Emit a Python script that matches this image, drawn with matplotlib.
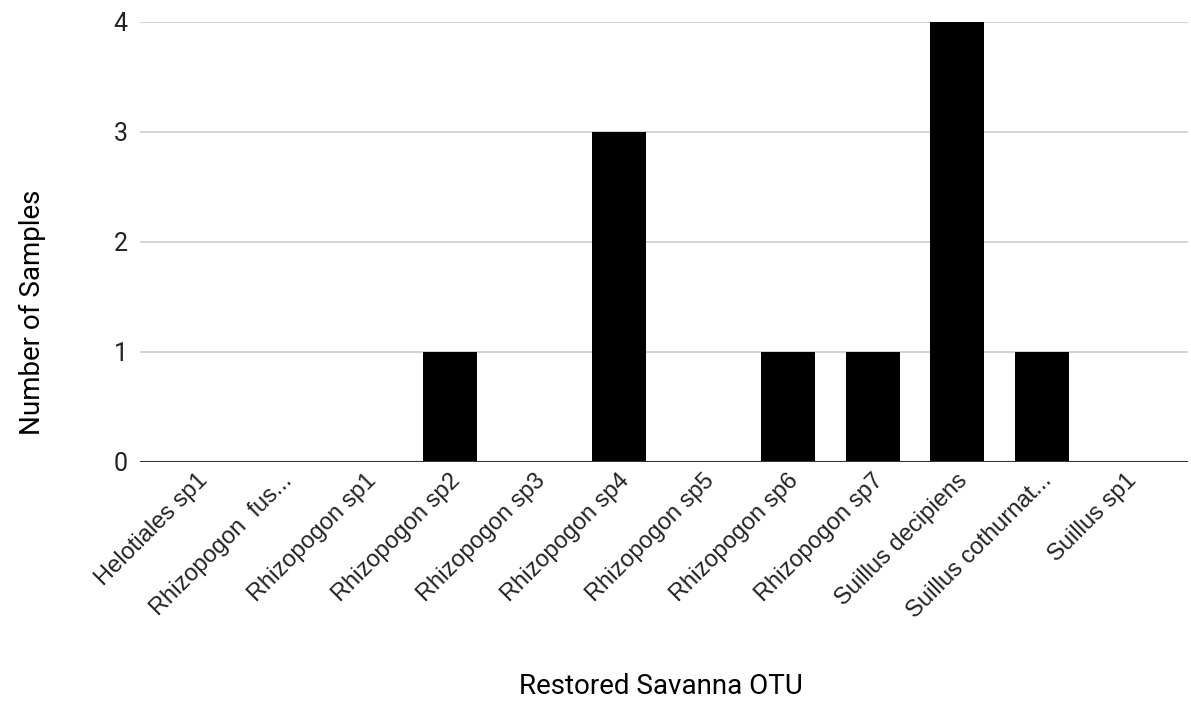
import matplotlib.pyplot as plt
import matplotlib.transforms as mtransforms

otus = ['Helotiales sp1', 'Rhizopogon  fus...', 'Rhizopogon sp1', 'Rhizopogon sp2',
        'Rhizopogon sp3', 'Rhizopogon sp4', 'Rhizopogon sp5', 'Rhizopogon sp6',
        'Rhizopogon sp7', 'Suillus decipiens', 'Suillus cothurnat...', 'Suillus sp1']
samples = [0, 0, 0, 1, 0, 3, 0, 1, 1, 4, 1, 0]

plt.rcParams['font.family'] = ['Roboto', 'DejaVu Sans']

fig = plt.figure(figsize=(11.91, 7.05), dpi=100)
ax = fig.add_axes([0.1175, 0.3447, 0.88, 0.6241])

x = list(range(len(otus)))
ax.bar(x, samples, width=0.64, color='black', zorder=3)

ax.set_xlim(-0.675, 11.73)
ax.set_ylim(0, 4)
ax.set_yticks([0, 1, 2, 3, 4])
ax.yaxis.grid(True, color='#cccccc', linewidth=1.2, zorder=0)
ax.axhline(0, color='#333333', linewidth=1.5, zorder=4)

for s in ax.spines.values():
    s.set_visible(False)
ax.tick_params(axis='both', length=0, colors='#222222')
ax.tick_params(axis='y', pad=9, labelsize=18)

ax.set_xticks(x)
ax.set_xticklabels(otus, rotation=45, ha='right', va='center', rotation_mode='anchor',
                   fontsize=17, family=['Liberation Sans', 'DejaVu Sans'])
ax.tick_params(axis='x', pad=11)
shift = mtransforms.ScaledTranslation(7 / 100, 0, fig.dpi_scale_trans)
for lbl in ax.get_xticklabels():
    lbl.set_transform(lbl.get_transform() + shift)

ax.set_xlabel('Restored Savanna OTU', fontsize=20)
ax.xaxis.set_label_coords(0.497, -0.48)
ax.set_ylabel('Number of Samples', fontsize=20)
ax.yaxis.set_label_coords(-0.09, 0.34)

fig.savefig('out.png', dpi=100)
